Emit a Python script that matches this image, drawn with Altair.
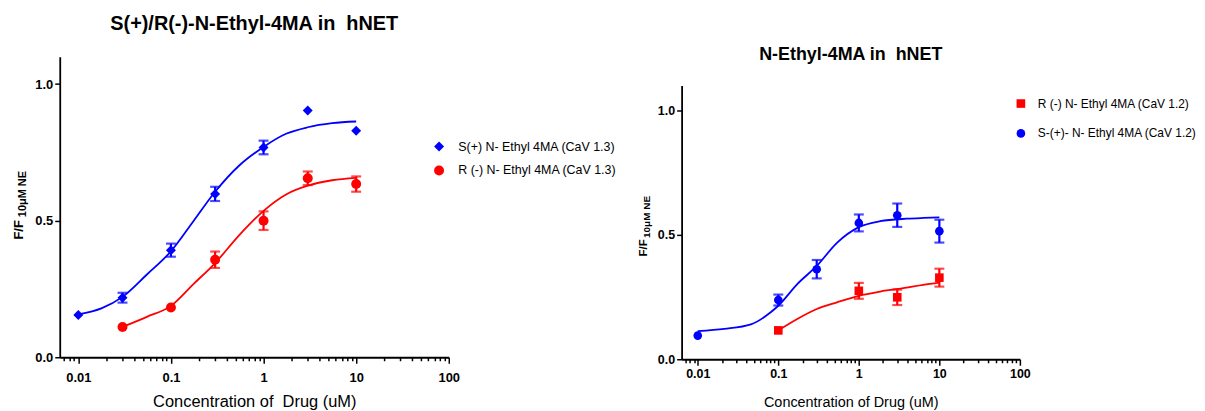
import altair as alt
import pandas as pd

FONT = "Liberation Sans"
BLUE = "#0000FF"
RED = "#FF0000"
NBSP = "\u00a0"

# ---------------- left panel: CaV 1.3 ----------------
L_S_name = "S(+) N- Ethyl 4MA (CaV 1.3)"
L_R_name = "R (-) N- Ethyl 4MA (CaV 1.3)"
L_S_conc = [0.01, 0.03, 0.1, 0.3, 1, 3, 10]
L_S_mean = [0.155, 0.218, 0.392, 0.598, 0.768, 0.903, 0.829]
L_S_sem = [0.0, 0.018, 0.024, 0.026, 0.025, 0.0, 0.0]
L_R_conc = [0.03, 0.1, 0.3, 1, 3, 10]
L_R_mean = [0.111, 0.182, 0.357, 0.500, 0.655, 0.634]
L_R_sem = [0.0, 0.0, 0.030, 0.034, 0.025, 0.028]
L_S_fit_x = [0.01, 0.018, 0.03, 0.055, 0.1, 0.174, 0.3, 0.55, 1, 1.75, 3, 5.5, 10]
L_S_fit_y = [0.157, 0.180, 0.221, 0.303, 0.388, 0.497, 0.606, 0.703, 0.770, 0.818, 0.842, 0.857, 0.863]
L_R_fit_x = [0.03, 0.055, 0.1, 0.174, 0.3, 0.55, 1, 1.75, 3, 5.5, 10]
L_R_fit_y = [0.111, 0.148, 0.188, 0.267, 0.345, 0.448, 0.536, 0.596, 0.628, 0.648, 0.657]

# ---------------- right panel: CaV 1.2 ----------------
R_R_name = "R (-) N- Ethyl 4MA (CaV 1.2)"
R_S_name = "S-(+)- N- Ethyl 4MA (CaV 1.2)"
R_S_conc = [0.01, 0.1, 0.3, 1, 3, 10]
R_S_mean = [0.095, 0.238, 0.362, 0.548, 0.579, 0.515]
R_S_sem = [0.0, 0.022, 0.037, 0.034, 0.047, 0.046]
R_R_conc = [0.1, 1, 3, 10]
R_R_mean = [0.116, 0.275, 0.249, 0.328]
R_R_sem = [0.0, 0.032, 0.031, 0.036]
R_S_fit_x = [0.01, 0.0214, 0.0457, 0.0805, 0.1, 0.172, 0.3, 0.535, 1, 1.84, 3.92, 6.3, 10]
R_S_fit_y = [0.113, 0.122, 0.140, 0.189, 0.215, 0.302, 0.375, 0.468, 0.531, 0.555, 0.565, 0.568, 0.570]
R_R_fit_x = [0.1, 0.172, 0.3, 0.535, 1, 1.84, 3.92, 6.3, 10]
R_R_fit_y = [0.116, 0.162, 0.202, 0.229, 0.255, 0.272, 0.288, 0.299, 0.308]

# axis tick values
MAJOR = [0.01, 0.1, 1, 10, 100]
MINOR_MULT = [2, 3, 4, 5, 6, 7, 8, 9]
X_TICKS = [0.007, 0.008, 0.009] + sorted(
    MAJOR + [round(m * d, 6) for d in [0.01, 0.1, 1, 10] for m in MINOR_MULT]
)
Y_TICKS = [0.0, 0.5, 1.0]
X_DOMAIN = [0.0063, 100]
Y_DOMAIN = [0, 1.1]

major_test = "datum.value == 0.01 || datum.value == 0.1 || datum.value == 1 || datum.value == 10 || datum.value == 100"


def make_panel(series, legend_order, title, width, height, top_gap, xtitle, xtitle_size,
               label_size, label_pad, title_pad, ytxt, legend_kw, sym_size, legend_font):
    x_axis = alt.Axis(
        values=X_TICKS,
        labelExpr=f"({major_test}) ? format(datum.value, '~g') : ''",
        labelOverlap=False,
        labelFlush=False,
        tickSize={"condition": {"test": major_test, "value": 6}, "value": 3.5},
        tickWidth=1.5,
        tickColor="black",
        domainColor="black",
        domainWidth=1.8,
        labelFont=FONT,
        labelFontSize=label_size,
        labelFontWeight="bold",
        labelColor="black",
        labelPadding=label_pad,
        title=xtitle,
        titleFont=FONT,
        titleFontSize=xtitle_size,
        titleFontWeight="normal",
        titleColor="black",
        titlePadding=title_pad,
        grid=False,
    )
    y_axis = alt.Axis(
        values=Y_TICKS,
        format=".1f",
        tickSize=5,
        tickWidth=1.5,
        tickColor="black",
        domainColor="black",
        domainWidth=1.8,
        labelFont=FONT,
        labelFontSize=label_size,
        labelFontWeight="bold",
        labelColor="black",
        labelPadding=2,
        title=None,
        grid=False,
    )
    full_h = height + top_gap
    xs = alt.Scale(type="log", domain=X_DOMAIN, nice=False)
    ys = alt.Scale(domain=Y_DOMAIN, nice=False, range=[full_h, top_gap])

    layers = []
    pts_rows = []
    for s in series:
        fit = pd.DataFrame({"conc": s["fit_x"], "val": s["fit_y"]})
        layers.append(
            alt.Chart(fit).mark_line(color=s["color"], strokeWidth=1.8, interpolate="monotone").encode(
                x=alt.X("conc:Q", scale=xs, axis=x_axis),
                y=alt.Y("val:Q", scale=ys, axis=y_axis),
            )
        )
    for s in series:
        eb = pd.DataFrame({"conc": s["conc"], "val": s["mean"], "sem": s["sem"]})
        eb = eb[eb["sem"] > 0]
        layers.append(
            alt.Chart(eb).mark_errorbar(ticks=True, size=10, thickness=2.2, color=s["color"]).encode(
                x=alt.X("conc:Q", scale=xs, axis=x_axis),
                y=alt.Y("val:Q", scale=ys, axis=y_axis),
                yError="sem:Q",
            )
        )
        for c, m in zip(s["conc"], s["mean"]):
            pts_rows.append({"conc": c, "val": m, "series": s["name"]})
    pts = pd.DataFrame(pts_rows)
    colors = {s["name"]: s["color"] for s in series}
    shapes = {s["name"]: s["shape"] for s in series}
    legend = alt.Legend(
        orient="none",
        title=None,
        labelFont=FONT,
        labelFontSize=legend_font,
        labelColor="black",
        labelLimit=400,
        symbolSize=sym_size,
        symbolStrokeWidth=0,
        **legend_kw,
    )
    layers.append(
        alt.Chart(pts).mark_point(filled=True, opacity=1, size=sym_size).encode(
            x=alt.X("conc:Q", scale=xs, axis=x_axis),
            y=alt.Y("val:Q", scale=ys, axis=y_axis),
            color=alt.Color("series:N", sort=legend_order,
                            scale=alt.Scale(domain=legend_order, range=[colors[n] for n in legend_order]),
                            legend=legend),
            shape=alt.Shape("series:N", sort=legend_order,
                            scale=alt.Scale(domain=legend_order, range=[shapes[n] for n in legend_order]),
                            legend=legend),
        )
    )
    # y-axis title: F/F with subscript
    for txt, fs, xo, yo in ytxt:
        layers.append(
            alt.Chart(pd.DataFrame({"t": [txt]})).mark_text(
                angle=270, font=FONT, fontWeight="bold", fontSize=fs, color="black",
                align="center", baseline="middle",
            ).encode(x=alt.value(xo), y=alt.value(yo + top_gap), text="t:N")
        )
    return alt.layer(*layers).properties(width=width, height=full_h, title=title)


left_series = [
    dict(name=L_S_name, color=BLUE, shape="diamond", conc=L_S_conc, mean=L_S_mean, sem=L_S_sem,
         fit_x=L_S_fit_x, fit_y=L_S_fit_y),
    dict(name=L_R_name, color=RED, shape="circle", conc=L_R_conc, mean=L_R_mean, sem=L_R_sem,
         fit_x=L_R_fit_x, fit_y=L_R_fit_y),
]
right_series = [
    dict(name=R_S_name, color=BLUE, shape="circle", conc=R_S_conc, mean=R_S_mean, sem=R_S_sem,
         fit_x=R_S_fit_x, fit_y=R_S_fit_y),
    dict(name=R_R_name, color=RED, shape="square", conc=R_R_conc, mean=R_R_mean, sem=R_R_sem,
         fit_x=R_R_fit_x, fit_y=R_R_fit_y),
]

RIGHT_GAP = 29

left = make_panel(
    left_series, [L_S_name, L_R_name],
    alt.TitleParams(text=f"S(+)/R(-)-N-Ethyl-4MA in{NBSP} hNET", font=FONT, fontSize=20,
                    fontWeight="bold", color="black", anchor="middle", offset=23),
    391, 302, 0,
    f"Concentration of{NBSP} Drug (uM)", 16.5, 13, 8, 9,
    [("F/F", 13, -41, 174), ("10\u03bcM NE", 11, -37, 138)],
    dict(legendX=375, legendY=84, rowPadding=11, labelOffset=13),
    100, 12.5,
)
right = make_panel(
    right_series, [R_R_name, R_S_name],
    alt.TitleParams(text=f"N-Ethyl-4MA in{NBSP} hNET", font=FONT, fontSize=18,
                    fontWeight="bold", color="black", anchor="middle", offset=-7),
    340, 275, RIGHT_GAP,
    "Concentration of Drug (uM)", 14.5, 12.5, 2, 16,
    [("F/F", 11.5, -38, 163), ("10\u03bcM NE", 10, -34.5, 132)],
    dict(legendX=335, legendY=41, rowPadding=18, labelOffset=11),
    75, 12,
)

chart = (
    alt.hconcat(left, right, spacing=21)
    .resolve_scale(color="independent", shape="independent", x="independent", y="independent")
    .properties(padding={"left": 5, "top": 5, "right": 0, "bottom": 0}, background="white")
    .configure_view(stroke=None)
)

chart.save("out.html", embed_options={"renderer": "svg", "actions": False})
